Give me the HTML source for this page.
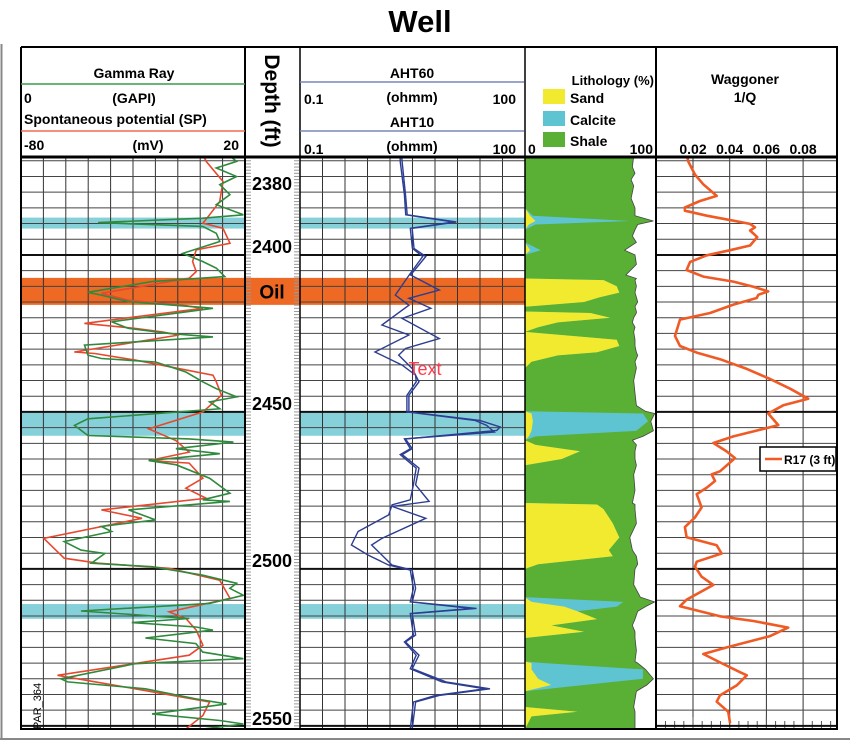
<!DOCTYPE html>
<html><head><meta charset="utf-8"><title>Well</title>
<style>
html,body{margin:0;padding:0;background:#fff;}
svg{display:block;font-family:"Liberation Sans",Arial,sans-serif;}
.b{font-weight:bold;}
</style></head>
<body>
<svg id="chart" width="850" height="741" viewBox="0 0 850 741" xmlns="http://www.w3.org/2000/svg">
  <rect x="0" y="0" width="850" height="741" fill="#fff"/>
  <line x1="1.5" y1="44" x2="1.5" y2="739" stroke="#888" stroke-width="2"/>
  <line x1="0" y1="739" x2="850" y2="739" stroke="#888" stroke-width="2"/>
  <text x="420" y="32" text-anchor="middle" class="b" font-size="31">Well</text>

  <g id="bands"></g>
  <g id="grid"></g>
  <g id="lith"></g>
  <g id="curves"></g>
  <g id="depth"></g>

  <!-- header -->
  <g id="header">
    <line x1="21" y1="47" x2="838" y2="47" stroke="#000" stroke-width="2"/>
    <line x1="21" y1="157" x2="838" y2="157" stroke="#000" stroke-width="3"/>
    <line x1="21" y1="47" x2="21" y2="730" stroke="#000" stroke-width="2"/>
    <line x1="245" y1="47" x2="245" y2="730" stroke="#000" stroke-width="2"/>
    <line x1="300" y1="47" x2="300" y2="730" stroke="#000" stroke-width="1.5"/>
    <line x1="525" y1="47" x2="525" y2="730" stroke="#000" stroke-width="1.5"/>
    <line x1="656" y1="47" x2="656" y2="730" stroke="#000" stroke-width="2"/>
    <line x1="837" y1="47" x2="837" y2="730" stroke="#000" stroke-width="2"/>
    <line x1="21" y1="729" x2="838" y2="729" stroke="#000" stroke-width="2"/>

    <text x="134" y="78" text-anchor="middle" class="b" font-size="14">Gamma Ray</text>
    <line x1="21" y1="84" x2="245" y2="84" stroke="#3a9a4a" stroke-width="1.5"/>
    <text x="24" y="103" class="b" font-size="14">0</text>
    <text x="134" y="103" text-anchor="middle" class="b" font-size="14">(GAPI)</text>
    <text x="24" y="124" class="b" font-size="14">Spontaneous potential (SP)</text>
    <line x1="21" y1="131" x2="245" y2="131" stroke="#f06a50" stroke-width="1.5"/>
    <text x="24" y="150" class="b" font-size="14">-80</text>
    <text x="148" y="150" text-anchor="middle" class="b" font-size="14">(mV)</text>
    <text x="239" y="150" text-anchor="end" class="b" font-size="14">20</text>

    <text transform="translate(265,101) rotate(90)" text-anchor="middle" class="b" font-size="21">Depth (ft)</text>

    <text x="412" y="78" text-anchor="middle" class="b" font-size="14">AHT60</text>
    <line x1="300" y1="82" x2="524" y2="82" stroke="#7a86b8" stroke-width="1.5"/>
    <text x="304" y="104" class="b" font-size="14">0.1</text>
    <text x="412" y="102" text-anchor="middle" class="b" font-size="14">(ohmm)</text>
    <text x="516" y="104" text-anchor="end" class="b" font-size="14">100</text>
    <text x="412" y="127" text-anchor="middle" class="b" font-size="14">AHT10</text>
    <line x1="300" y1="131" x2="524" y2="131" stroke="#7a86b8" stroke-width="1.5"/>
    <text x="304" y="154" class="b" font-size="14">0.1</text>
    <text x="412" y="151" text-anchor="middle" class="b" font-size="14">(ohmm)</text>
    <text x="516" y="154" text-anchor="end" class="b" font-size="14">100</text>

    <text x="654" y="85" text-anchor="end" class="b" font-size="13">Lithology (%)</text>
    <rect x="543" y="89" width="22" height="15" fill="#f2ea2e"/>
    <text x="570" y="103" class="b" font-size="14">Sand</text>
    <rect x="543" y="111" width="22" height="15" fill="#5ec4d2"/>
    <text x="570" y="125" class="b" font-size="14">Calcite</text>
    <rect x="543" y="132" width="22" height="15" fill="#5aaf35"/>
    <text x="570" y="146" class="b" font-size="14">Shale</text>
    <text x="528" y="154" class="b" font-size="14">0</text>
    <text x="653" y="154" text-anchor="end" class="b" font-size="14">100</text>

    <text x="745" y="84" text-anchor="middle" class="b" font-size="14">Waggoner</text>
    <text x="745" y="102" text-anchor="middle" class="b" font-size="14">1/Q</text>
    <g id="wagTicks"></g>
  </g>

  <text x="425" y="375" text-anchor="middle" font-size="18" fill="#ff3b4e">Text</text>
  <text transform="translate(41,706) rotate(-90)" font-size="11" text-anchor="middle">PAR_364</text>

  <g>
    <rect x="760" y="447" width="76" height="24" fill="#fff" stroke="#000" stroke-width="1.5"/>
    <line x1="765" y1="459" x2="782" y2="459" stroke="#f05a24" stroke-width="2.5"/>
    <text x="784" y="464" class="b" font-size="12">R17 (3 ft)</text>
  </g>
</svg>

<script>
// ---------- data ----------
const grDepth = [2368.5,2370.2,2372.3,2375.0,2377.6,2380.8,2384.0,2387.2,2388.3,2389.7,2390.9,2393.1,2395.7,2399.5,2402.1,2404.2,2406.9,2408.5,2411.9,2412.8,2414.9,2416.7,2417.0,2421.3,2423.4,2425.0,2426.1,2428.7,2431.9,2433.0,2434.1,2437.3,2440.4,2442.6,2445.2,2446.8,2449.0,2452.2,2454.3,2457.5,2458.6,2459.6,2461.7,2463.3,2465.5,2466.8,2471.1,2475.9,2478.0,2478.5,2481.2,2484.4,2486.5,2488.1,2491.3,2494.0,2495.1,2498.2,2499.3,2502.0,2504.6,2506.2,2508.4,2511.0,2513.4,2515.8,2517.1,2518.5,2519.5,2522.0,2523.8,2526.5,2528.6,2530.2,2535.0,2536.0,2538.2,2541.4,2543.0,2546.2,2548.3,2549.4,2551.0];
const grValue = [140,144.4,130.8,144.4,133.1,139.9,130.8,148.9,121.7,51.6,121.7,130.8,133.1,108.2,121.7,130.8,136.5,87.8,44.8,53.8,72.0,121.7,128.6,60.7,72.0,99.1,128.6,42.5,44.8,53.8,90.1,110.4,121.7,130.8,144.4,126.3,133.1,44.8,35.8,44.8,112.7,142.2,103.7,133.1,85.5,103.7,126.3,139.9,121.7,139.9,72.0,90.1,53.8,60.7,28.9,40.2,56.1,47.1,87.8,121.7,144.4,139.9,148.9,126.3,40.2,112.7,74.2,117.2,128.6,83.3,117.2,121.7,148.9,76.5,26.7,31.2,83.3,117.2,137.6,87.8,133.1,148.9,121.7];
const spDepth = [2368.5,2370.2,2376.6,2383.0,2387.2,2389.9,2391.5,2396.3,2398.4,2402.1,2405.3,2407.4,2412.2,2414.4,2416.0,2417.0,2421.8,2423.4,2424.5,2425.5,2430.9,2431.4,2433.5,2438.3,2440.4,2444.7,2450.0,2455.4,2459.1,2462.8,2465.5,2466.3,2471.1,2474.3,2477.5,2481.2,2483.9,2490.3,2496.6,2498.2,2499.8,2503.6,2509.4,2513.7,2515.8,2519.5,2524.3,2527.5,2533.9,2538.2,2542.4,2546.7,2551.0];
const spValue = [1.5,2.7,10.2,8.7,4.2,1.2,10.2,13.3,-1.8,-3.4,-1.8,-4.9,-44.1,-32.0,-7.9,1.2,-51.7,-29.0,-16.9,-9.4,-56.2,-47.1,-29.0,5.7,7.2,9.5,1.2,-23.0,-10.9,-4.9,-23.0,-4.9,1.2,-6.4,2.7,-44.1,-26.0,-69.8,-60.7,-45.6,-13.9,8.7,13.3,-13.9,-6.4,-1.8,1.2,-4.9,-63.7,-29.0,4.2,1.2,-6.4];
const aht60Depth = [2368.5,2370.2,2380.8,2387.2,2389.5,2391.5,2397.9,2400.5,2406.4,2411.2,2413.8,2417.0,2420.2,2426.6,2429.8,2431.9,2436.2,2440.4,2444.7,2450.0,2452.7,2454.8,2455.9,2458.6,2461.7,2463.6,2467.9,2473.2,2478.5,2480.1,2483.9,2490.3,2492.4,2496.6,2498.8,2500.4,2506.2,2510.5,2512.6,2514.2,2521.1,2523.3,2527.5,2531.8,2536.0,2538.2,2540.3,2542.4,2551.0];
const aht60Value = [2.3,2.33,2.59,2.73,12.4,3.18,3.36,4.84,3.03,7.34,2.87,5.65,2.33,7.34,2.59,2.10,3.18,3.93,2.87,2.87,25.7,47.9,43.2,2.59,3.18,2.33,3.93,3.53,5.36,1.71,4.84,1.25,0.91,1.38,1.71,3.18,3.53,3.18,23.1,3.18,3.53,2.59,3.93,3.18,9.02,35.0,7.34,3.53,3.18];
const aht10Depth = [2368.5,2370.2,2380.8,2387.2,2389.5,2391.5,2397.9,2400.5,2406.4,2412.8,2416.0,2422.3,2425.5,2430.9,2435.1,2438.3,2440.4,2444.7,2450.0,2452.7,2454.3,2456.4,2458.6,2461.7,2463.6,2467.9,2473.2,2478.0,2479.6,2482.8,2488.1,2492.4,2495.6,2498.8,2500.4,2506.2,2510.5,2512.6,2514.2,2521.1,2523.3,2527.5,2531.8,2536.0,2538.2,2540.3,2542.4,2551.0];
const aht10Value = [2.2,2.2,2.5,2.6,11.5,3.0,3.2,4.4,2.9,1.89,2.87,1.25,2.87,1.01,2.33,3.53,3.6,2.7,2.7,22,31.6,40,2.5,3.0,2.2,3.6,3.3,3.0,1.71,1.54,0.60,0.488,0.82,1.54,3.0,3.3,3.0,20,3.0,3.3,2.5,3.6,3.0,8.0,30,6.5,3.3,3.0];
const lithDepth = [2368.5,2372,2374,2376,2378,2380,2382,2385,2387.5,2389.2,2390.3,2392,2394,2396,2398.5,2400,2403,2406.4,2407.5,2408,2410,2412,2413.5,2415,2416.5,2418,2418.5,2420,2421.5,2423,2424.5,2427,2429,2431,2432,2434,2436,2440,2444,2448,2449.8,2450.5,2453,2456,2457.8,2459,2460.5,2462.5,2465,2467,2470,2475,2479,2479.5,2481,2485.5,2490,2494,2496,2498.5,2500,2505,2509,2510.5,2512,2513.5,2516,2518,2520,2522,2526,2529.5,2530,2532,2535,2537,2539,2544,2545.5,2547,2551];
const sandPct = [0,0,0,0,0,0,0,0,4,8,3,0,0,0,4,0,0,0,0,60,70,72,57,45,0,0,50,65,25,10,0,70,72,55,25,5,0,0,0,0,0,5,6,5,3,0,8,42,28,0,0,0,0,55,60,67,72,64,67,10,0,0,0,5,30,40,55,20,45,0,0,0,5,5,10,20,0,0,40,5,0];
const calcitePct = [0,0,0,0,0,0,0,0,2,72,5,0,0,0,8,0,0,0,0,0,0,0,0,0,0,0,0,0,0,0,0,0,0,0,0,0,0,0,0,0,0,85,88,80,5,0,0,0,0,0,0,0,0,0,0,0,0,0,0,0,0,0,0,70,40,0,0,0,0,0,0,0,10,85,80,25,0,0,0,0,0];
const totalPct = [83,82,84,81,83,82,81,84,84,98,86,84,82,85,76,84,85,77,85,84,85,84,85,86,84,85,85,83,82,84,83,84,84,85,86,84,85,83,84,85,92,99,96,98,90,82,85,84,84,85,83,84,82,84,84,85,80,82,85,86,84,83,88,99,92,86,84,82,84,84,85,84,86,92,98,93,85,83,84,84,84];
const wagDepth = [2368.5,2370.2,2374.4,2377.5,2381.2,2382.8,2384.9,2385.9,2387.5,2389.1,2390.1,2391.2,2392.2,2394.3,2397.0,2398.5,2400.1,2402.2,2404.8,2406.9,2408.5,2410.1,2411.6,2412.7,2413.7,2415.8,2418.5,2420.6,2425.8,2429.0,2431.1,2433.2,2436.3,2439.5,2442.6,2445.8,2447.9,2450.5,2454.2,2455.7,2457.8,2459.9,2462.6,2464.7,2468.9,2469.9,2472.0,2474.1,2476.2,2480.4,2483.6,2486.7,2489.9,2492.5,2495.1,2497.7,2499.3,2502.5,2505.1,2509.8,2511.9,2515.1,2516.6,2518.7,2521.4,2525.0,2527.1,2529.8,2532.9,2533.9,2537.1,2540.3,2542.3,2545.5,2549.2];
const wagValue = [0.0168,0.0174,0.0211,0.0256,0.0329,0.0238,0.0156,0.0156,0.0275,0.0420,0.0511,0.0538,0.0511,0.0550,0.0511,0.0402,0.0275,0.0184,0.0165,0.0256,0.0420,0.0529,0.0610,0.0556,0.0547,0.0420,0.0293,0.0129,0.0102,0.0129,0.0220,0.0347,0.0493,0.0620,0.0729,0.0828,0.0692,0.0610,0.0665,0.0565,0.0420,0.0311,0.0384,0.0429,0.0347,0.0302,0.0320,0.0275,0.0220,0.0247,0.0211,0.0156,0.0165,0.0329,0.0356,0.0220,0.0211,0.0247,0.0311,0.0165,0.0129,0.0347,0.0529,0.0719,0.0620,0.0384,0.0256,0.0347,0.0456,0.0493,0.0438,0.0347,0.0329,0.0392,0.0402];
const depthLabels = [2380,2400,2450,2500,2550];
const wagTickLabels = [0.02,0.04,0.06,0.08];
const cyanBandTop = [2388.1,2449.9,2511.2];
const cyanBandBottom = [2391.6,2457.6,2515.9];
const oilBandTop = [2407.3];
const oilBandBottom = [2415.9];

// ---------- axes ----------
const NS = "http://www.w3.org/2000/svg";
const D0 = 2368.8, D1 = 2551.0, PY0 = 157, PY1 = 729;
function yD(d){ return PY0 + (d - D0) / (D1 - D0) * (PY1 - PY0); }
function grX(v){ return 21 + v / 150 * 224; }
function spX(v){ return 21 + (v + 80) / 100 * 224; }
function ahtX(v){ return 300 + (Math.log10(v) + 1) / 3 * 224; }
function lithX(p){ return 525 + p / 100 * 131; }
function wagX(v){ return 656.3 + v * 1835; }
function mk(tag, attrs, parent){
  const e = document.createElementNS(NS, tag);
  for (const k in attrs) e.setAttribute(k, attrs[k]);
  parent.appendChild(e);
  return e;
}
const gBands = document.getElementById('bands');
const gGrid = document.getElementById('grid');
const gLith = document.getElementById('lith');
const gCurves = document.getElementById('curves');
const gDepth = document.getElementById('depth');
const gWagTicks = document.getElementById('wagTicks');

// bands
for (let i = 0; i < cyanBandTop.length; i++) {
  [[21,245],[300,525]].forEach(function(r){
    const el = mk('rect', {x:r[0], y:yD(cyanBandTop[i]), width:r[1]-r[0], height:yD(cyanBandBottom[i])-yD(cyanBandTop[i]), fill:'#86d0da'}, gBands);
    
    
  });
}
for (let i = 0; i < oilBandTop.length; i++) {
  const el = mk('rect', {x:21, y:yD(oilBandTop[i]), width:504, height:yD(oilBandBottom[i])-yD(oilBandTop[i]), fill:'#ee6a24'}, gBands);
  
  
  const t = mk('text', {x:272, y:(yD(oilBandTop[i])+yD(oilBandBottom[i]))/2+7, 'text-anchor':'middle', 'font-size':'19', 'font-weight':'bold'}, gBands);
  t.textContent = 'Oil';
  
  
}

// grid
const tracks = [[21,245,10],[300,525,10]];
tracks.forEach(function(t){
  const step = (t[1]-t[0]) / t[2];
  for (let i = 1; i < t[2]; i++) {
    const el = mk('line', {x1:t[0]+i*step, y1:PY0, x2:t[0]+i*step, y2:PY1, stroke:'#333', 'stroke-width':'1'}, gGrid);
    
    
  }
});
wagTickLabels.forEach(function(v){
  const el = mk('line', {x1:wagX(v), y1:PY0, x2:wagX(v), y2:PY1, stroke:'#333', 'stroke-width':'1'}, gGrid);
  
  
  const t = mk('text', {x:wagX(v), y:154, 'text-anchor':'middle', 'font-size':'14', 'font-weight':'bold'}, gWagTicks);
  t.textContent = v.toFixed(2);
  
  
});
for (let v = 0.005; v < 0.098; v += 0.005) {
  const major = Math.abs(v/0.02 - Math.round(v/0.02)) < 0.01;
  const el = mk('line', {x1:wagX(v), y1:PY1-(major?12:8), x2:wagX(v), y2:PY1, stroke:'#555', 'stroke-width':'1'}, gGrid);
  
  
}
for (let d = 2370; d <= 2550; d += 5) {
  const thick = d % 50 === 0;
  [[21,245],[300,525],[656,837]].forEach(function(r){
    const el = mk('line', {x1:r[0], y1:yD(d), x2:r[1], y2:yD(d), stroke: thick ? '#111' : '#444', 'stroke-width': thick ? '2' : '1'}, gGrid);
    
    
  });
  const tk = mk('line', {x1:525, y1:yD(d), x2:529, y2:yD(d), stroke:'#333', 'stroke-width':'1'}, gGrid);
  
  
}

// depth ticks and labels
for (let d = 2369; d <= 2551; d += 1) {
  [[246,251],[294,299]].forEach(function(r){
    const el = mk('line', {x1:r[0], y1:yD(d), x2:r[1], y2:yD(d), stroke:'#999', 'stroke-width':'1'}, gDepth);
    
    
  });
}
depthLabels.forEach(function(d){
  const yy = d === 2550 ? yD(d) - 1 : yD(d) - 2;
  const t = mk('text', {x:272, y:yy, 'text-anchor':'middle', 'font-size':'18', 'font-weight':'bold'}, gDepth);
  t.textContent = d;
  
  
});

// lithology
function areaPath(depths, vals){
  let p = 'M' + lithX(0) + ',' + yD(depths[0]);
  for (let i = 0; i < depths.length; i++) p += ' L' + lithX(vals[i]).toFixed(1) + ',' + yD(depths[i]).toFixed(1);
  p += ' L' + lithX(0) + ',' + yD(depths[depths.length-1]) + ' Z';
  return p;
}
const sandCalc = sandPct.map(function(s,i){ return s + calcitePct[i]; });
const shale = mk('path', {d:areaPath(lithDepth, totalPct), fill:'#5aaf35', stroke:'#444', 'stroke-width':'0.8'}, gLith);


const calc = mk('path', {d:areaPath(lithDepth, sandCalc), fill:'#5ec4d2'}, gLith);


const sand = mk('path', {d:areaPath(lithDepth, sandPct), fill:'#f2ea2e'}, gLith);



// curves
function linePath(depths, vals, fx){
  let p = '';
  for (let i = 0; i < depths.length; i++) p += (i ? ' L' : 'M') + fx(vals[i]).toFixed(1) + ',' + yD(depths[i]).toFixed(1);
  return p;
}
const clipDefs = mk('defs', {}, gCurves);
[['clipGR',21,224],['clipAHT',300,224],['clipWag',656,181]].forEach(function(c){
  const cp = mk('clipPath', {id:c[0]}, clipDefs);
  mk('rect', {x:c[1], y:PY0, width:c[2], height:PY1-PY0}, cp);
});
const sp = mk('path', {d:linePath(spDepth, spValue, spX), fill:'none', stroke:'#e8482e', 'stroke-width':'1.6', 'clip-path':'url(#clipGR)'}, gCurves);


const gr = mk('path', {d:linePath(grDepth, grValue, grX), fill:'none', stroke:'#2e8a3c', 'stroke-width':'1.6', 'clip-path':'url(#clipGR)'}, gCurves);


const a10 = mk('path', {d:linePath(aht10Depth, aht10Value, ahtX), fill:'none', stroke:'#2c3d92', 'stroke-width':'1.4', 'clip-path':'url(#clipAHT)'}, gCurves);


const a60 = mk('path', {d:linePath(aht60Depth, aht60Value, ahtX), fill:'none', stroke:'#2c3d92', 'stroke-width':'1.4', 'clip-path':'url(#clipAHT)'}, gCurves);


const wag = mk('path', {d:linePath(wagDepth, wagValue, wagX), fill:'none', stroke:'#f05a24', 'stroke-width':'2.6', 'stroke-linejoin':'round', 'clip-path':'url(#clipWag)'}, gCurves);


</script>
</body></html>
